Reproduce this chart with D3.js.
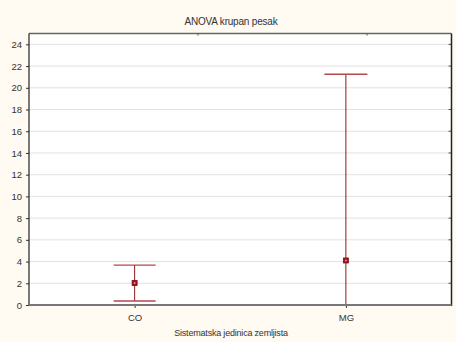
<!DOCTYPE html>
<html>
<head>
<meta charset="utf-8">
<script src="https://cdn.jsdelivr.net/npm/d3@7"></script>
<style>
  body { margin: 0; background: #fffaf2; }
  text { font-family: Arial, "Liberation Sans", sans-serif; fill: #333; }
</style>
</head>
<body>
<svg id="chart" width="456" height="342"></svg>
<script>
var categories = ["CO", "MG"]
var means = [2.02, 4.1]
var upper = [3.68, 21.25]
var lower = [0.37, -13.0]
var y_ticks = [0, 2, 4, 6, 8, 10, 12, 14, 16, 18, 20, 22, 24]

var svg = d3.select("#chart")
var width = parseFloat(svg.attr("width"))
var height = parseFloat(svg.attr("height"))
var margin = {left: 29, right: 4.5, top: 33.5, bottom: 37}

var x = d3.scalePoint()
    .domain(categories)
    .range([margin.left, width - margin.right])
    .padding(0.5)
var y = d3.scaleLinear()
    .domain([0, 25])
    .range([height - margin.bottom, margin.top])

svg.append("rect")
    .attr("x", margin.left)
    .attr("y", margin.top)
    .attr("width", width - margin.left - margin.right)
    .attr("height", height - margin.top - margin.bottom)
    .attr("fill", "#fff")

svg.append("defs").append("clipPath").attr("id", "plotclip")
  .append("rect")
    .attr("x", margin.left)
    .attr("y", margin.top)
    .attr("width", width - margin.left - margin.right)
    .attr("height", height - margin.top - margin.bottom)

// grid
svg.selectAll(".grid")
    .data(y_ticks.filter(function(d){ return d > 0 }))
    .enter()
    .append("line")
    .attr("class", "grid")
    .attr("x1", margin.left)
    .attr("x2", width - margin.right)
    .attr("y1", function(d){ return y(d) })
    .attr("y2", function(d){ return y(d) })
    .attr("stroke", "#e2e2e2")
    .attr("stroke-width", 1)

// y axis
var y_axis = svg.append("g")
    .attr("transform", "translate(" + margin.left + ",0)")
    .call(d3.axisLeft(y).tickValues(y_ticks).tickSize(3).tickPadding(4).tickFormat(d3.format("d")))
y_axis.select(".domain").remove()
y_axis.selectAll(".tick line").attr("stroke", "#333")
y_axis.selectAll("text").attr("font-size", 9.5).attr("fill", "#333")

// right side mini ticks
svg.selectAll(".rtick")
    .data(y_ticks)
    .enter()
    .append("line")
    .attr("x1", width - margin.right - 3)
    .attr("x2", width - margin.right)
    .attr("y1", function(d){ return y(d) })
    .attr("y2", function(d){ return y(d) })
    .attr("stroke", "#555")

// x axis
var x_axis = svg.append("g")
    .attr("transform", "translate(0," + (height - margin.bottom) + ")")
    .call(d3.axisBottom(x).tickSize(3).tickPadding(6))
x_axis.select(".domain").remove()
x_axis.selectAll(".tick line").attr("stroke", "#333")
x_axis.selectAll("text").attr("font-size", 9.5).attr("fill", "#333")

// error bars
var plot = svg.append("g").attr("clip-path", "url(#plotclip)")
var bar_color = "#8b1a1a"
var cap_half = [21, 21.5]

var err = plot.selectAll(".err")
    .data(categories)
    .enter()
    .append("g")
    .attr("class", "err")
err.append("line")
    .attr("x1", function(d){ return x(d) })
    .attr("x2", function(d){ return x(d) })
    .attr("y1", function(d, i){ return y(upper[i]) })
    .attr("y2", function(d, i){ return y(lower[i]) })
    .attr("stroke", bar_color)
    .attr("stroke-width", 1)
err.append("line")
    .attr("x1", function(d, i){ return x(d) - cap_half[i] })
    .attr("x2", function(d, i){ return x(d) + cap_half[i] })
    .attr("y1", function(d, i){ return y(upper[i]) })
    .attr("y2", function(d, i){ return y(upper[i]) })
    .attr("stroke", "#b5474f")
    .attr("stroke-width", 1.3)
err.append("line")
    .attr("x1", function(d, i){ return x(d) - cap_half[i] })
    .attr("x2", function(d, i){ return x(d) + cap_half[i] })
    .attr("y1", function(d, i){ return y(lower[i]) })
    .attr("y2", function(d, i){ return y(lower[i]) })
    .attr("stroke", "#b5474f")
    .attr("stroke-width", 1.3)
err.append("rect")
    .attr("x", function(d){ return x(d) - 2.5 })
    .attr("y", function(d, i){ return y(means[i]) - 2.5 })
    .attr("width", 5)
    .attr("height", 5)
    .attr("fill", "#a01020")
    .attr("stroke", "#7a0f18")
    .attr("stroke-width", 0.8)
err.append("rect")
    .attr("x", function(d){ return x(d) - 0.8 })
    .attr("y", function(d, i){ return y(means[i]) - 0.8 })
    .attr("width", 1.6)
    .attr("height", 1.6)
    .attr("fill", "#e8a0a0")

// frame
var fl = margin.left, fr = width - margin.right, ft = margin.top, fb = height - margin.bottom
svg.append("line").attr("x1", fl).attr("x2", fr).attr("y1", ft).attr("y2", ft)
    .attr("stroke", "#666").attr("stroke-width", 1.5)
svg.append("line").attr("x1", fl).attr("x2", fl).attr("y1", ft).attr("y2", fb)
    .attr("stroke", "#222").attr("stroke-width", 1.2)
svg.append("line").attr("x1", fr).attr("x2", fr).attr("y1", ft).attr("y2", fb + 1)
    .attr("stroke", "#222").attr("stroke-width", 1.5)
svg.append("line").attr("x1", fl).attr("x2", fr).attr("y1", fb).attr("y2", fb)
    .attr("stroke", "#777").attr("stroke-width", 2)

// top mini ticks
svg.selectAll(".ttick")
    .data([0.4, 0.8])
    .enter()
    .append("line")
    .attr("x1", function(d){ return fl + d * (fr - fl) })
    .attr("x2", function(d){ return fl + d * (fr - fl) })
    .attr("y1", ft)
    .attr("y2", ft + 2)
    .attr("stroke", "#555")

// titles
svg.append("text")
    .attr("x", 231)
    .attr("y", 25)
    .attr("text-anchor", "middle")
    .attr("font-size", 10)
    .attr("letter-spacing", -0.2)
    .text("ANOVA krupan pesak")
svg.append("text")
    .attr("x", 231)
    .attr("y", 336)
    .attr("text-anchor", "middle")
    .attr("font-size", 9)
    .attr("letter-spacing", -0.2)
    .text("Sistematska jedinica zemljista")
</script>
</body>
</html>
